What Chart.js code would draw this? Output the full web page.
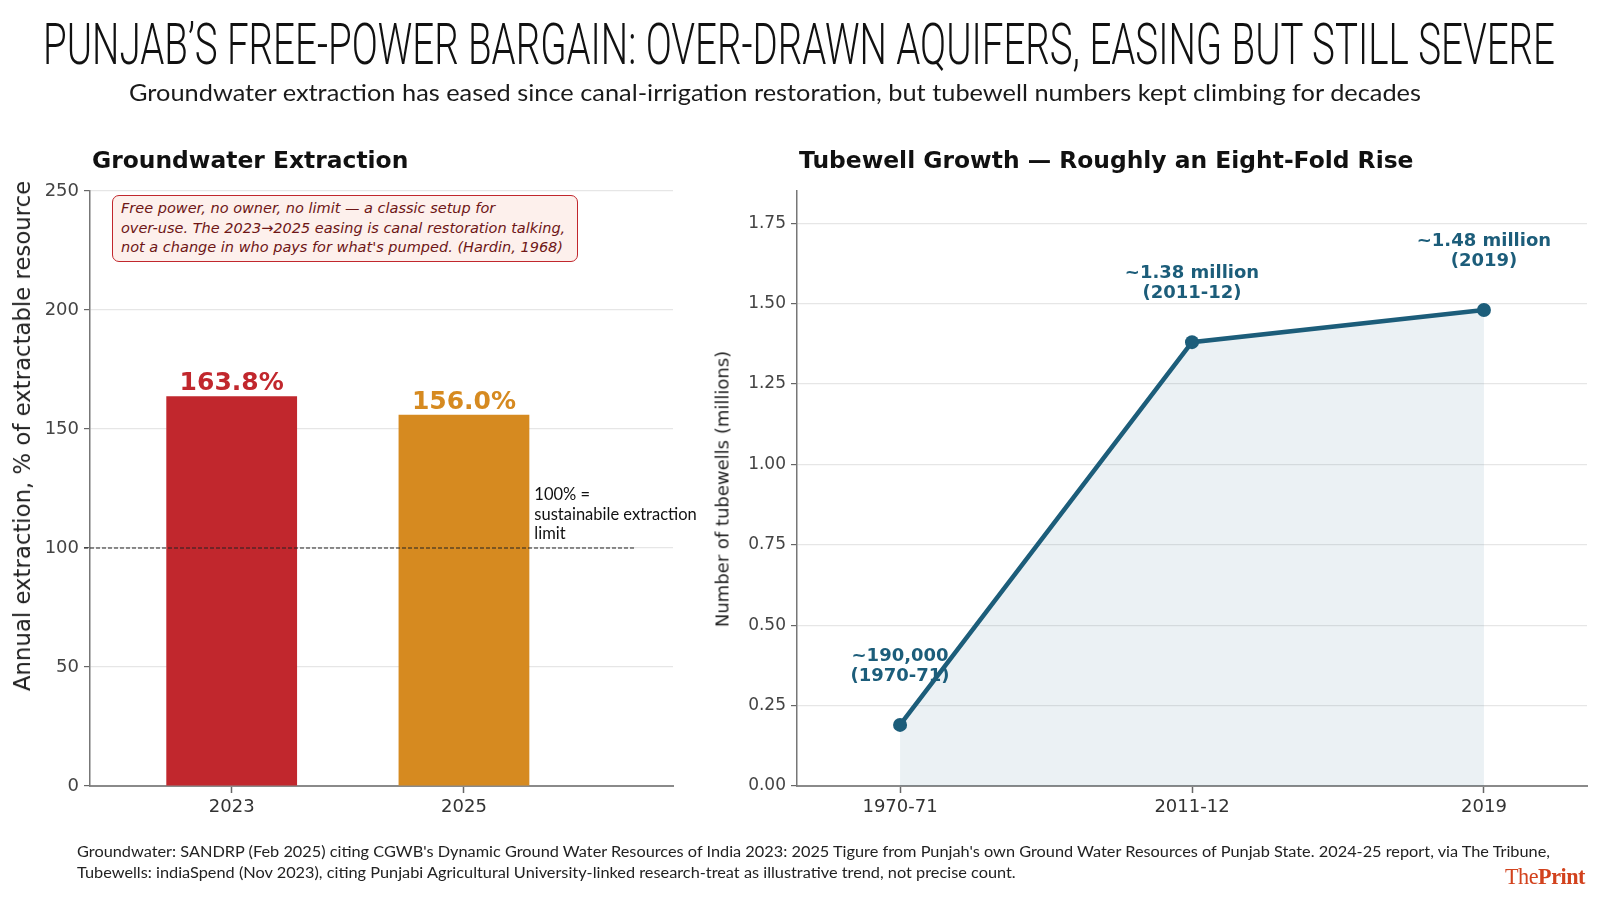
<!DOCTYPE html>
<html><head><meta charset="utf-8">
<script src="https://cdn.jsdelivr.net/npm/chart.js@4.4.0/dist/chart.umd.min.js"></script>
<style>
html,body{margin:0;padding:0;background:#fff;}
body{width:1600px;height:924px;position:relative;overflow:hidden;}
canvas{position:absolute;left:0;top:0;}
.t{position:absolute;white-space:nowrap;transform-origin:0 0;}
.rot{position:absolute;white-space:nowrap;transform:translate(-50%,-50%) rotate(-90deg);font-family:'DejaVu Sans';color:#222;}
</style></head><body>
<canvas id="left" width="1600" height="924"></canvas>
<canvas id="right" width="1600" height="924"></canvas>

<div id="title" class="t" style="left:43px;top:10px;font-family:Roboto;font-weight:300;font-size:58px;color:#111;">PUNJAB’S FREE-POWER BARGAIN: OVER-DRAWN AQUIFERS, EASING BUT STILL SEVERE</div>
<div id="subtitle" class="t" style="left:129px;top:78px;font-family:Lato;font-size:23px;color:#1a1a1a;">Groundwater extraction has eased since canal-irrigation restoration, but tubewell numbers kept climbing for decades</div>

<div class="t" style="left:92px;top:146px;font-family:'DejaVu Sans';font-weight:bold;font-size:23.4px;color:#111;">Groundwater Extraction</div>
<div class="t" style="left:799px;top:146px;font-family:'DejaVu Sans';font-weight:bold;font-size:23.4px;color:#111;">Tubewell Growth — Roughly an Eight-Fold Rise</div>

<div class="rot" style="left:22px;top:436px;font-size:22.8px;">Annual extraction, % of extractable resource</div>
<div class="rot" style="left:722px;top:489px;font-size:18px;">Number of tubewells (millions)</div>

<div style="position:absolute;left:112px;top:195px;width:456px;height:62px;border:1.5px solid #c1272d;border-radius:7px;background:#fdf0ec;padding:3px 0 0 8px;font-family:'DejaVu Sans';font-style:italic;font-size:14.5px;line-height:19.5px;color:#6e1616;white-space:nowrap;">Free power, no owner, no limit — a classic setup for<br>over-use. The 2023→2025 easing is canal restoration talking,<br>not a change in who pays for what's pumped. (Hardin, 1968)</div>

<div id="foot1" class="t" style="left:77px;top:843px;font-family:Lato;font-size:14.5px;color:#222;">Groundwater: SANDRP (Feb 2025) citing CGWB's Dynamic Ground Water Resources of India 2023: 2025 Tigure from Punjah's own Ground Water Resources of Punjab State. 2024-25 report, via The Tribune,</div>
<div id="foot2" class="t" style="left:77px;top:864px;font-family:Lato;font-size:14.5px;color:#222;">Tubewells: indiaSpend (Nov 2023), citing Punjabi Agricultural University-linked research-treat as illustrative trend, not precise count.</div>
<div id="logo" class="t" style="left:1505px;top:864px;font-family:'Liberation Serif';font-size:23px;color:#d2421d;letter-spacing:-0.5px;">The<b>Print</b></div>

<script>
// ---- data ----
const gwYears = ['2023', '2025'];
const gwValues = [163.8, 156.0];
const gwColors = ['#c1272d', '#d68a20'];
const gwMax = 250;
const gwStep = 50;
const sustainLimit = 100;
const sustainText = ['100% =', 'sustainabile extraction', 'limit'];

const twPeriods = ['1970-71', '2011-12', '2019'];
const twValues = [0.19, 1.38, 1.48];
const twLabels = [['~190,000', '(1970-71)'], ['~1.38 million', '(2011-12)'], ['~1.48 million', '(2019)']];
const twMax = 1.85;
const twStep = 0.25;

// ---- text fitting ----
function fit(id, w, ref) {
  const el = document.getElementById(id);
  const s = ref ? ref : w / el.getBoundingClientRect().width;
  el.style.transform = 'scaleX(' + s + ')';
  return s;
}
fit('title', 1512);
fit('subtitle', 1292);
const fs = fit('foot1', 1473);
fit('foot2', 0, fs);
fit('logo', 80);

Chart.defaults.font.family = "'DejaVu Sans'";
Chart.defaults.animation = false;

const blue = '#1c5d7a';
const xTickFont = { size: 18 };
const yTickFont = { size: 17 };

// ---- left: bar chart ----
const barLabels = {
  id: 'barLabels',
  afterDatasetsDraw(chart) {
    const ctx = chart.ctx;
    const meta = chart.getDatasetMeta(0);
    const y = chart.scales.y;
    const x = chart.scales.x;
    // reference line
    const yl = y.getPixelForValue(sustainLimit);
    ctx.save();
    ctx.strokeStyle = '#222';
    ctx.lineWidth = 1;
    ctx.setLineDash([4, 2]);
    ctx.beginPath();
    ctx.moveTo(x.left - 6, yl);
    ctx.lineTo(x.getPixelForValue(1.74), yl);
    ctx.stroke();
    ctx.setLineDash([]);
    // limit text
    const last = meta.data[meta.data.length - 1];
    ctx.fillStyle = '#111';
    ctx.font = "16.5px Lato";
    ctx.textAlign = 'left';
    ctx.textBaseline = 'middle';
    sustainText.forEach((s, i) => {
      ctx.fillText(s, last.x + last.width / 2 + 5, yl - 53 + i * 19.5);
    });
    // value labels
    ctx.font = "bold 25px 'DejaVu Sans'";
    ctx.textAlign = 'center';
    ctx.textBaseline = 'alphabetic';
    meta.data.forEach((b, i) => {
      ctx.fillStyle = gwColors[i];
      ctx.fillText(gwValues[i].toFixed(1) + '%', b.x, b.y - 6);
    });
    ctx.restore();
  }
};

new Chart(document.getElementById('left'), {
  type: 'bar',
  data: {
    datasets: [{
      data: gwValues.map((v, i) => ({ x: i, y: v })),
      backgroundColor: gwColors,
      borderWidth: 0,
      barPercentage: 0.563,
      categoryPercentage: 1
    }]
  },
  options: {
    responsive: false,
    layout: { padding: { left: 0, right: 927, top: 191, bottom: 98 } },
    plugins: { legend: { display: false }, tooltip: { enabled: false } },
    scales: {
      x: {
        type: 'linear',
        offset: false,
        min: -0.61, max: 1.9,
        afterBuildTicks: s => { s.ticks = gwYears.map((_, i) => ({ value: i })); },
        afterFit: s => { s.height = 40; },
        ticks: { callback: v => gwYears[v] ?? '', font: xTickFont, color: '#333', padding: 4, maxRotation: 0 },
        grid: { offset: false, drawOnChartArea: false, tickLength: 7, tickColor: '#666', tickWidth: 1.5 },
        border: { color: '#8a8a8a', width: 2 }
      },
      y: {
        min: 0, max: gwMax,
        afterFit: s => { s.width = 90; },
        ticks: { stepSize: gwStep, font: { size: 18 }, color: '#444', padding: 5 },
        grid: { color: '#e6e6e6', lineWidth: 1.2, tickColor: '#666', tickLength: 6, tickWidth: 1.2 },
        border: { color: '#777', width: 1.5 }
      }
    }
  },
  plugins: [barLabels]
});

// ---- right: line chart ----
const pointLabels = {
  id: 'pointLabels',
  beforeDatasetsDraw(chart) {
    const ctx = chart.ctx;
    const meta = chart.getDatasetMeta(0);
    ctx.save();
    ctx.fillStyle = blue;
    ctx.font = "bold 18px 'DejaVu Sans'";
    ctx.textAlign = 'center';
    ctx.textBaseline = 'middle';
    meta.data.forEach((p, i) => {
      twLabels[i].forEach((s, j) => ctx.fillText(s, p.x, p.y - 69 + j * 20.5));
    });
    ctx.restore();
  }
};

new Chart(document.getElementById('right'), {
  type: 'line',
  data: {
    datasets: [{
      data: twValues.map((v, i) => ({ x: i, y: v })),
      borderColor: blue,
      borderWidth: 4.5,
      pointRadius: 7,
      pointBackgroundColor: blue,
      pointBorderWidth: 0,
      fill: 'origin',
      backgroundColor: 'rgba(28,93,122,0.085)',
      tension: 0
    }]
  },
  options: {
    responsive: false,
    layout: { padding: { left: 737, right: 13, top: 191, bottom: 98 } },
    plugins: { legend: { display: false }, tooltip: { enabled: false } },
    scales: {
      x: {
        type: 'linear',
        min: -0.353, max: 2.353,
        afterBuildTicks: s => { s.ticks = twPeriods.map((_, i) => ({ value: i })); },
        afterFit: s => { s.height = 40; },
        ticks: { callback: v => twPeriods[v] ?? '', font: xTickFont, color: '#333', padding: 4, maxRotation: 0 },
        grid: { drawOnChartArea: false, tickLength: 7, tickColor: '#666', tickWidth: 1.5 },
        border: { color: '#8a8a8a', width: 2 }
      },
      y: {
        min: 0, max: twMax,
        afterFit: s => { s.width = 60; },
        ticks: { stepSize: twStep, includeBounds: false, callback: v => v.toFixed(2), font: yTickFont, color: '#444', padding: 5 },
        grid: { color: '#e6e6e6', lineWidth: 1.2, tickColor: '#666', tickLength: 6, tickWidth: 1.2 },
        border: { color: '#777', width: 1.5 }
      }
    }
  },
  plugins: [pointLabels]
});
</script>
</body></html>
